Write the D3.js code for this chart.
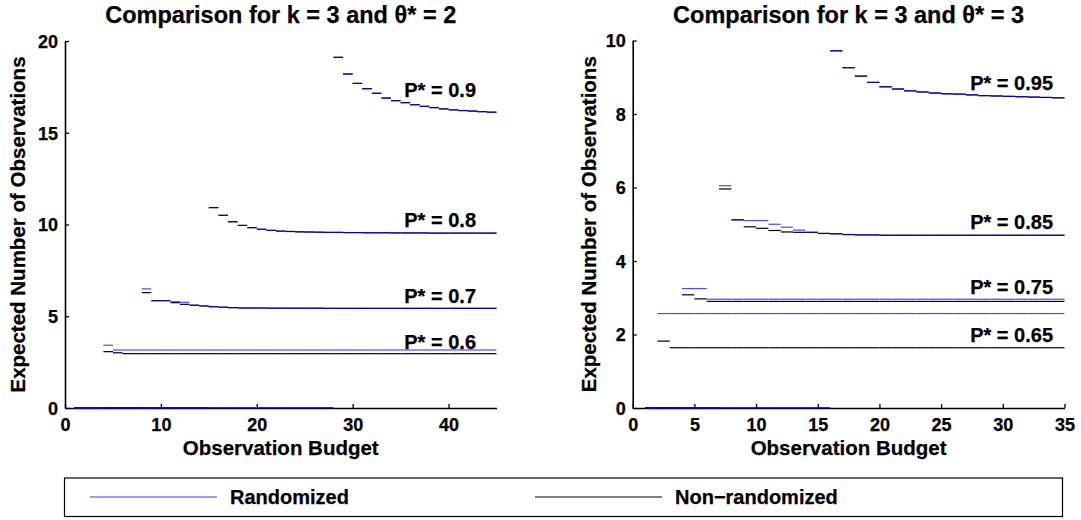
<!DOCTYPE html>
<html><head><meta charset="utf-8">
<script src="https://cdn.jsdelivr.net/npm/d3@7"></script>
<style>
html,body{margin:0;padding:0;background:#fff;}
text{font-family:"Liberation Sans",Arial,Helvetica,sans-serif;font-weight:bold;fill:#000;stroke:#000;stroke-width:0.25px;}
</style></head>
<body><svg id="c" width="1081" height="520"></svg>
<script>
// ---------- data (value at budget b = 1,2,3,... ; segment drawn from b to b+1) ----------
const leftTitle = "Comparison for k = 3 and \u03B8* = 2";
const rightTitle = "Comparison for k = 3 and \u03B8* = 3";
const xLabel = "Observation Budget";
const yLabel = "Expected Number of Observations";
const legendLabels = ["Randomized", "Non\u2212randomized"];

const leftXTicks = [0, 10, 20, 30, 40];
const leftYTicks = [0, 5, 10, 15, 20];
const rightXTicks = [0, 5, 10, 15, 20, 25, 30, 35];
const rightYTicks = [0, 2, 4, 6, 8, 10];

const leftLabels = ["P* = 0.9", "P* = 0.8", "P* = 0.7", "P* = 0.6"];
const rightLabels = ["P* = 0.95", "P* = 0.85", "P* = 0.75", "P* = 0.65"];

// Left panel, budgets 1..44 (rows of 10)
const L09rand = [
  0,0,0,0,0,0,0,0,0,0,
  0,0,0,0,0,0,0,0,0,0,
  0,0,0,0,0,0,0,19.11,18.20,17.69,
  17.40,17.15,16.89,16.75,16.64,16.53,16.44,16.37,16.30,16.25,
  16.21,16.18,16.15,16.12];
const L09non = [
  0,0,0,0,0,0,0,0,0,0,
  0,0,0,0,0,0,0,0,0,0,
  0,0,0,0,0,0,0,19.11,18.20,17.69,
  17.40,17.15,16.89,16.75,16.64,16.53,16.44,16.37,16.30,16.25,
  16.21,16.18,16.15,16.12];
const L08rand = [
  0,0,0,0,0,0,0,0,0,0,
  0,0,0,0,10.92,10.50,10.15,9.95,9.83,9.74,
  9.68,9.64,9.62,9.60,9.59,9.58,9.57,9.57,9.56,9.56,
  9.55,9.55,9.55,9.54,9.54,9.54,9.54,9.53,9.53,9.53,
  9.53,9.53,9.53,9.53];
const L08non = [
  0,0,0,0,0,0,0,0,0,0,
  0,0,0,0,10.92,10.50,10.15,9.95,9.83,9.74,
  9.68,9.64,9.62,9.60,9.59,9.58,9.57,9.57,9.56,9.56,
  9.55,9.55,9.55,9.54,9.54,9.54,9.54,9.53,9.53,9.53,
  9.53,9.53,9.53,9.53];
const L07rand = [
  0,0,0,0,0,0,0,6.49,5.85,5.85,
  5.79,5.76,5.60,5.56,5.52,5.49,5.47,5.45,5.45,5.45,
  5.44,5.44,5.44,5.44,5.44,5.44,5.43,5.43,5.43,5.43,
  5.43,5.43,5.43,5.43,5.43,5.43,5.43,5.43,5.43,5.43,
  5.43,5.43,5.43,5.43];
const L07non = [
  0,0,0,0,0,0,0,6.29,5.85,5.85,
  5.74,5.65,5.60,5.56,5.52,5.49,5.47,5.45,5.45,5.45,
  5.44,5.44,5.44,5.44,5.44,5.44,5.43,5.43,5.43,5.43,
  5.43,5.43,5.43,5.43,5.43,5.43,5.43,5.43,5.43,5.43,
  5.43,5.43,5.43,5.43];
const L06rand = [
  0,0,0,3.42,3.16,3.16,3.16,3.16,3.16,3.16,
  3.16,3.16,3.16,3.16,3.16,3.16,3.16,3.16,3.16,3.16,
  3.16,3.16,3.16,3.16,3.16,3.16,3.16,3.16,3.16,3.16,
  3.16,3.16,3.16,3.16,3.16,3.16,3.16,3.16,3.16,3.16,
  3.16,3.16,3.16,3.16];
const L06non = [
  0,0,0,3.07,3.01,2.96,2.96,2.96,2.96,2.96,
  2.96,2.96,2.96,2.96,2.96,2.96,2.96,2.96,2.96,2.96,
  2.96,2.96,2.96,2.96,2.96,2.96,2.96,2.96,2.96,2.96,
  2.96,2.96,2.96,2.96,2.96,2.96,2.96,2.96,2.96,2.96,
  2.96,2.96,2.96,2.96];

// Right panel, budgets 1..34 (rows of 10)
const R095rand = [
  0,0,0,0,0,0,0,0,0,0,
  0,0,0,0,0,9.72,9.26,9.03,8.86,8.74,
  8.68,8.63,8.60,8.57,8.55,8.54,8.52,8.50,8.49,8.48,
  8.47,8.46,8.45,8.44];
const R095non = [
  0,0,0,0,0,0,0,0,0,0,
  0,0,0,0,0,9.72,9.26,9.03,8.86,8.74,
  8.68,8.63,8.60,8.57,8.55,8.54,8.52,8.50,8.49,8.48,
  8.47,8.46,8.45,8.44];
const R085rand = [
  0,0,0,0,0,0,6.05,5.12,5.10,5.10,
  5.00,4.92,4.84,4.78,4.75,4.74,4.72,4.71,4.71,4.70,
  4.70,4.70,4.70,4.70,4.70,4.70,4.70,4.70,4.70,4.70,
  4.70,4.70,4.70,4.70];
const R085non = [
  0,0,0,0,0,0,5.96,5.12,4.93,4.89,
  4.83,4.79,4.78,4.78,4.75,4.74,4.72,4.71,4.71,4.70,
  4.70,4.70,4.70,4.70,4.70,4.70,4.70,4.70,4.70,4.70,
  4.70,4.70,4.70,4.70];
const R075rand = [
  0,0,0,3.25,3.25,2.96,2.96,2.96,2.96,2.96,
  2.96,2.96,2.96,2.96,2.96,2.96,2.96,2.96,2.96,2.96,
  2.96,2.96,2.96,2.96,2.96,2.96,2.96,2.96,2.96,2.96,
  2.96,2.96,2.96,2.96];
const R075non = [
  0,0,0,3.08,2.97,2.90,2.90,2.90,2.90,2.90,
  2.90,2.90,2.90,2.90,2.90,2.90,2.90,2.90,2.90,2.90,
  2.90,2.90,2.90,2.90,2.90,2.90,2.90,2.90,2.90,2.90,
  2.90,2.90,2.90,2.90];
const R065rand = [
  0,2.57,2.57,2.57,2.57,2.57,2.57,2.57,2.57,2.57,
  2.57,2.57,2.57,2.57,2.57,2.57,2.57,2.57,2.57,2.57,
  2.57,2.57,2.57,2.57,2.57,2.57,2.57,2.57,2.57,2.57,
  2.57,2.57,2.57,2.57];
const R065non = [
  0,1.82,1.64,1.64,1.64,1.64,1.64,1.64,1.64,1.64,
  1.64,1.64,1.64,1.64,1.64,1.64,1.64,1.64,1.64,1.64,
  1.64,1.64,1.64,1.64,1.64,1.64,1.64,1.64,1.64,1.64,
  1.64,1.64,1.64,1.64];

// ---------- drawing ----------
const svg = d3.select("#c");
const BLUE = "#0000ff", BLACK = "#000000";

function panel(cfg) {
  const x = d3.scaleLinear().domain(cfg.xDomain).range(cfg.xRange);
  const y = d3.scaleLinear().domain(cfg.yDomain).range(cfg.yRange);
  const g = svg.append("g");

  // axes
  const xa = d3.axisBottom(x).tickValues(cfg.xTicks).tickSizeInner(-4).tickSizeOuter(0).tickPadding(10);
  const ya = d3.axisLeft(y).tickValues(cfg.yTicks).tickSizeInner(-4).tickSizeOuter(0).tickPadding(7);
  const gx = g.append("g").attr("transform", `translate(0,${cfg.yRange[0]})`).call(xa);
  const gy = g.append("g").attr("transform", `translate(${cfg.xRange[0]},0)`).call(ya);
  [gx, gy].forEach(a => {
    a.select(".domain").attr("stroke", "#000").attr("stroke-width", 1.6);
    a.selectAll(".tick line").attr("stroke", "#000").attr("stroke-width", 1.3);
    a.selectAll(".tick text").attr("font-size", 18).attr("font-family", null).attr("fill", "#000");
  });
  gx.selectAll(".tick text").attr("dy", null).attr("y", 23);
  gy.selectAll(".tick text").attr("dy", "0.36em");

  // series: black first, then blue translucent on top (navy where they coincide)
  const drawSeries = (vals, color, op) => {
    g.append("g").selectAll("line").data(vals).join("line")
      .attr("x1", (d, i) => x(i + 1)).attr("x2", (d, i) => x(i + 2))
      .attr("y1", d => y(d)).attr("y2", d => y(d))
      .attr("stroke", color).attr("stroke-width", 1.2).attr("stroke-opacity", op);
  };
  cfg.non.forEach(s => drawSeries(s, BLACK, 1));
  cfg.rand.forEach(s => drawSeries(s, BLUE, 0.72));

  // title
  const cx = (cfg.xRange[0] + cfg.xRange[1]) / 2;
  g.append("text").attr("x", cx).attr("y", 23).attr("text-anchor", "middle")
    .attr("font-size", 23.5).text(cfg.title);
  // x label
  g.append("text").attr("x", cx).attr("y", 455).attr("text-anchor", "middle")
    .attr("font-size", 20.5).text(xLabel);
  // y label
  const cy = (cfg.yRange[0] + cfg.yRange[1]) / 2;
  g.append("text").attr("transform", `translate(${cfg.yLabelX},${cy}) rotate(-90)`)
    .attr("text-anchor", "middle").attr("font-size", 20.5).text(yLabel);
  // curve labels
  g.selectAll("text.pl").data(cfg.labels).join("text").attr("class", "pl")
    .attr("x", cfg.labelX).attr("y", (d, i) => cfg.labelY[i])
    .attr("text-anchor", "end").attr("font-size", 20).text(d => d);
}

panel({
  xDomain: [0, 45], xRange: [65, 496.5], yDomain: [0, 20], yRange: [408, 41],
  xTicks: leftXTicks, yTicks: leftYTicks, title: leftTitle, yLabelX: 25,
  non: [L09non, L08non, L07non, L06non], rand: [L09rand, L08rand, L07rand, L06rand],
  labels: leftLabels, labelX: 476, labelY: [97, 227, 302.5, 348.5]
});
panel({
  xDomain: [0, 35], xRange: [632.7, 1064.5], yDomain: [0, 10], yRange: [408, 40.5],
  xTicks: rightXTicks, yTicks: rightYTicks, title: rightTitle, yLabelX: 596,
  non: [R095non, R085non, R075non, R065non], rand: [R095rand, R085rand, R075rand, R065rand],
  labels: rightLabels, labelX: 1053, labelY: [89.5, 228.5, 293.5, 342]
});

// legend
const lg = svg.append("g");
lg.append("rect").attr("x", 64.5).attr("y", 478).attr("width", 998).attr("height", 38.5)
  .attr("fill", "#fff").attr("stroke", "#000").attr("stroke-width", 1.2);
const legendColors = [BLUE, BLACK];
const legendX = [90, 535];
legendLabels.forEach((t, i) => {
  lg.append("line").attr("x1", legendX[i]).attr("x2", legendX[i] + 127)
    .attr("y1", 497).attr("y2", 497).attr("stroke", legendColors[i])
    .attr("stroke-width", 1.2).attr("stroke-opacity", i === 0 ? 0.8 : 1);
  lg.append("text").attr("x", legendX[i] + 140).attr("y", 504).attr("font-size", 20).text(t);
});
</script></body></html>
